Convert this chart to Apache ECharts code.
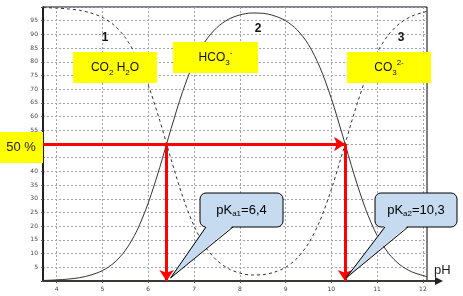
<!DOCTYPE html>
<html><head><meta charset="utf-8">
<script src="https://cdn.jsdelivr.net/npm/echarts@6/dist/echarts.min.js"></script>
<style>html,body{margin:0;padding:0;background:#fff}#c{width:463px;height:296px}</style>
</head><body><div id="c"></div>
<script>
// pH sample points
const pH = [3.7,4.0,4.25,4.5,4.75,5.0,5.25,5.5,5.75,6.0,6.25,6.5,6.75,7.0,7.25,7.5,7.75,8.0,8.25,8.5,8.75,9.0,9.25,9.5,9.75,10.0,10.25,10.5,10.75,11.0,11.25,11.5,11.75,12.0,12.09];
// curve 2 : HCO3- fraction (%) — solid line
const hco3 = [0.2,0.4,0.7,1.2,2.2,3.8,6.6,11.2,18.3,28.5,41.4,55.7,69.1,79.9,87.6,92.5,95.5,97.1,97.8,97.7,96.8,95.0,91.7,86.3,78.0,66.6,52.9,38.7,26.2,16.6,10.1,5.9,3.4,2.0,1.6];
// curves 1 and 3 : CO2 H2O (left) / CO3 2- (right) (%) — dashed line
const co2co3 = [99.8,99.6,99.3,98.8,97.8,96.2,93.4,88.8,81.7,71.5,58.6,44.3,30.9,20.1,12.4,7.5,4.5,2.9,2.2,2.3,3.2,5.0,8.3,13.7,22.0,33.4,47.1,61.3,73.8,83.4,89.9,94.1,96.6,98.0,98.4];
const xTicks = [4,5,6,7,8,9,10,11,12];
const xMin = 3.7, xMax = 12.09;
const pKa1 = 6.4, pKa2 = 10.3;
const half = 50;

const chart = echarts.init(document.getElementById('c'), null, {renderer:'canvas'});
const FF = 'Liberation Sans, Arial, sans-serif';
const gridLine = {show:true, lineStyle:{color:'#a2a2b4', type:[2,2], width:1}};
chart.setOption({
  animation:false,
  backgroundColor:'#fff',
  grid:{left:43, top:7, width:384, height:274, show:true, borderColor:'#000', borderWidth:1, backgroundColor:'transparent'},
  xAxis:{type:'value', min:xMin, max:xMax,
    axisLine:{show:true, onZero:false, lineStyle:{color:'#3a3a30', width:2}},
    axisTick:{show:true, customValues:xTicks, length:2, lineStyle:{color:'#555'}},
    axisLabel:{customValues:xTicks, fontSize:6, color:'#444', margin:5, fontFamily:'DejaVu Sans'},
    splitLine:gridLine},
  yAxis:{type:'value', min:0, max:100, interval:5,
    axisLine:{show:true, lineStyle:{color:'#000', width:1.5}},
    axisTick:{show:true, length:2, lineStyle:{color:'#555'}},
    axisLabel:{fontSize:6, color:'#444', margin:5, fontFamily:'DejaVu Sans',
      formatter:v => (v===0||v===100)?'':String(v)},
    splitLine:gridLine},
  series:[
    {type:'line', name:'HCO3-', data:pH.map((x,i)=>[x,hco3[i]]), smooth:0.3, symbol:'none',
      lineStyle:{color:'#333', width:1}, z:3},
    {type:'line', name:'CO2 / CO3 2-', data:pH.map((x,i)=>[x,co2co3[i]]), smooth:0.3, symbol:'none',
      lineStyle:{color:'#333', width:1, type:[3,3]}, z:3},
    {type:'line', name:'guides', data:[], z:5,
      markLine:{silent:true, animation:false, symbol:['none','arrow'], symbolSize:[11,11],
        label:{show:false}, lineStyle:{color:'#ff0000', width:3, type:'solid'},
        emphasis:{disabled:true},
        data:[
          [{coord:[xMin,half]},{coord:[pKa2,half]}],
          [{coord:[pKa1,half]},{coord:[pKa1,0]}],
          [{coord:[pKa2,half]},{coord:[pKa2,0]}]
        ]}}
  ]
});

const P = (x,y)=>chart.convertToPixel({gridIndex:0},[x,y]);
const o = P(xMax,0);
const t1 = P(pKa1,0), t2 = P(pKa2,0);
function yellow(x,y,w,h,text,rich){
  return [
    {type:'rect', shape:{x:x,y:y,width:w,height:h}, style:{fill:'#ffff00'}, z:20},
    {type:'text', x:x+w/2, y:y+h/2, z:21, style:{text:text, rich:rich, align:'center', verticalAlign:'middle', fill:'#111', font:'12px '+FF}}
  ];
}
const richChem = {
  n:{fontSize:12, fontFamily:FF, color:'#111', lineHeight:18},
  sb:{fontSize:8, fontFamily:FF, color:'#111', lineHeight:18, verticalAlign:'bottom'},
  sp:{fontSize:8, fontFamily:FF, color:'#111', lineHeight:18, verticalAlign:'top'}
};
const richK = {
  n:{fontSize:13, fontFamily:FF, color:'#333', lineHeight:18},
  sb:{fontSize:8, fontFamily:FF, color:'#333', lineHeight:18, verticalAlign:'bottom', padding:[0,0,1,0]}
};
function callout(x,y,w,h,b0,b1,tip,text){
  return [
    {type:'rect', shape:{x:x,y:y,width:w,height:h,r:6}, style:{fill:'#c6dbef', stroke:'#000', lineWidth:1}, z:20},
    {type:'polygon', shape:{points:[[b0,y+h-1.5],[b1,y+h-1.5],tip]}, style:{fill:'#c6dbef'}, z:21},
    {type:'polyline', shape:{points:[[b0,y+h],tip,[b1,y+h]]}, style:{stroke:'#000', lineWidth:1, fill:null}, z:22},
    {type:'text', x:x+w/2, y:y+h/2, z:23, style:{text:text, rich:richK, align:'center', verticalAlign:'middle'}}
  ];
}
const g = [].concat(
  yellow(73,52,84,31,'{n|CO}{sb|2}{n| H}{sb|2}{n|O}',richChem),
  yellow(173,42,85,31,'{n|HCO}{sb|3}{sp|-}',richChem),
  yellow(347,52,84,31,'{n|CO}{sb|3}{sp|2-}',richChem),
  [{type:'rect', shape:{x:0,y:132,width:43,height:31}, style:{fill:'#ffff00'}, z:20},
   {type:'text', x:21, y:147, z:21, style:{text:'50 %', align:'center', verticalAlign:'middle', fill:'#222', font:'13px '+FF}}],
  [{type:'text', x:105, y:38, z:21, style:{text:'1', align:'center', verticalAlign:'middle', fill:'#111', font:'bold 12px '+FF}},
   {type:'text', x:258, y:29, z:21, style:{text:'2', align:'center', verticalAlign:'middle', fill:'#111', font:'bold 12px '+FF}},
   {type:'text', x:401, y:38, z:21, style:{text:'3', align:'center', verticalAlign:'middle', fill:'#111', font:'bold 12px '+FF}}],
  callout(200,193,83,34,206,233,[t1[0]+4,t1[1]-3],'{n|pK}{sb|a1}{n|=6,4}'),
  callout(375,193,82,34,385,408,[t2[0]+1,t2[1]-3],'{n|pK}{sb|a2}{n|=10,3}'),
  [{type:'line', shape:{x1:o[0],y1:o[1],x2:o[0]+10,y2:o[1]}, style:{stroke:'#3a3a30', lineWidth:2}, z:10},
   {type:'polygon', shape:{points:[[o[0]+8,o[1]-4],[o[0]+16,o[1]],[o[0]+8,o[1]+4]]}, style:{fill:'#222'}, z:10},
   {type:'text', x:434, y:270, z:21, style:{text:'pH', align:'left', verticalAlign:'middle', fill:'#222', font:'13px '+FF}}]
);
chart.setOption({graphic:g});
</script></body></html>
